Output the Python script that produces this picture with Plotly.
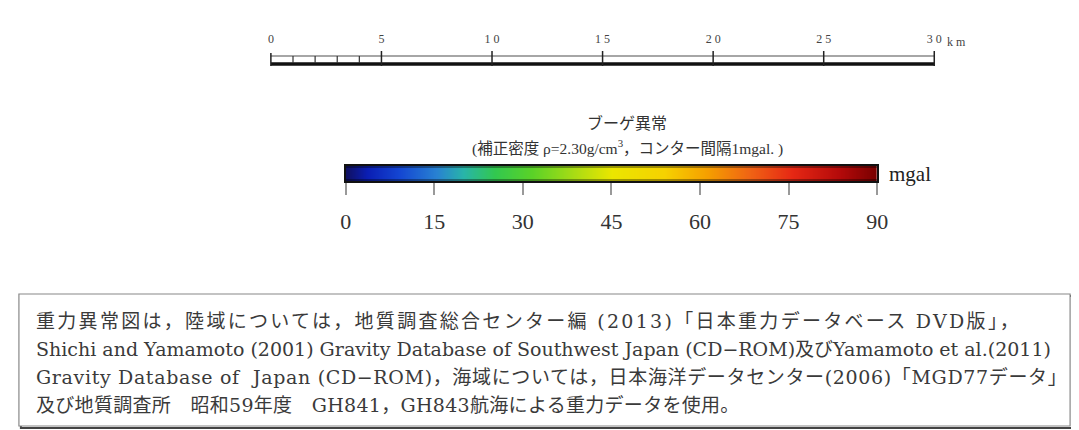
import plotly.graph_objects as go

W, H = 1079, 430

# ---- data ----
scale_major_km = [0, 5, 10, 15, 20, 25, 30]
scale_major_labels = ["0", "5", "1 0", "1 5", "2 0", "2 5", "3 0"]
scale_minor_km = [1, 2, 3, 4]
scale_unit = "k m"

colorbar_ticks = [0, 15, 30, 45, 60, 75, 90]
colorbar_tick_labels = ["0", "15", "30", "45", "60", "75", "90"]
colorbar_unit = "mgal"
colorbar_stops = [0.0, 0.04, 0.10, 0.17, 0.22, 0.28, 0.35, 0.43, 0.50, 0.60, 0.68, 0.76, 0.84, 0.93, 1.0]
colorbar_colors = ["#101060", "#0a1eb4", "#1446d2", "#2882d2", "#28b4aa", "#32c850", "#5ad228",
                   "#aadc14", "#ebe600", "#f5d200", "#f5a000", "#f06414", "#e62814", "#b40a0a", "#780000"]

title_text = "ブーゲ異常"
subtitle_text = "(補正密度 ρ=2.30g/cm<sup>3</sup>，コンター間隔1mgal. )"
note_lines = [
    "重力異常図は，陸域については，地質調査総合センター編 (2013)「日本重力データベース DVD版」，",
    "Shichi and Yamamoto (2001) Gravity Database of Southwest Japan (CD−ROM)及びYamamoto et al.(2011)",
    "Gravity Database of  Japan (CD−ROM)，海域については，日本海洋データセンター(2006)「MGD77データ」",
    "及び地質調査所　昭和59年度　GH841，GH843航海による重力データを使用。",
]
note_letter_spacing = [2.3, 0.0, 0.65, 0.3]

# ---- helpers for placement ----
def px(p):
    return p / W

def py(p):
    return 1 - p / H

SERIF = "Liberation Serif, Noto Sans CJK JP"
WIDE_SERIF = "DejaVu Serif, Noto Sans CJK JP"

fig = go.Figure()

# ---- scale bar (km axis) ----
sb_x0, sb_x1 = 261, 935
km_px = (sb_x1 - sb_x0) / (scale_major_km[-1] - scale_major_km[0])
pad_km = 0.2
sb_top, sb_bot = 43, 58
pad_v = 0.15
v_px = sb_bot - sb_top

# thick black bar
fig.add_trace(go.Scatter(x=[scale_major_km[0], scale_major_km[-1]], y=[0.13, 0.13], mode="lines",
                         line=dict(color="#111", width=3.5), xaxis="x", yaxis="y", hoverinfo="skip"))
# thin gray line
fig.add_trace(go.Scatter(x=[scale_major_km[0], scale_major_km[-1]], y=[0.667, 0.667], mode="lines",
                         line=dict(color="#888", width=1.5), xaxis="x", yaxis="y", hoverinfo="skip"))
# major ticks
mx, my = [], []
for k in scale_major_km:
    mx += [k, k, None]
    my += [0.0, 1.0 if k else 0.87, None]
fig.add_trace(go.Scatter(x=mx, y=my, mode="lines", line=dict(color="#222", width=1.5),
                         xaxis="x", yaxis="y", hoverinfo="skip"))
# minor ticks
nx, ny = [], []
for k in scale_minor_km:
    nx += [k, k, None]
    ny += [0.2, 0.667, None]
fig.add_trace(go.Scatter(x=nx, y=ny, mode="lines", line=dict(color="#333", width=1.2),
                         xaxis="x", yaxis="y", hoverinfo="skip"))

# ---- colour bar ----
fig.add_trace(go.Heatmap(
    x=colorbar_ticks, y=[0, 1], z=[colorbar_ticks, colorbar_ticks], zsmooth="best",
    colorscale=[[s, c] for s, c in zip(colorbar_stops, colorbar_colors)],
    zmin=colorbar_ticks[0], zmax=colorbar_ticks[-1], showscale=False,
    xaxis="x2", yaxis="y2", hoverinfo="skip"))
# subtle tube shading at top/bottom of the colour bar
fig.add_trace(go.Scatter(x=[colorbar_ticks[0], colorbar_ticks[-1]], y=[0.93, 0.93], mode="lines",
                         line=dict(color="rgba(0,0,0,0.35)", width=2), xaxis="x2", yaxis="y2",
                         hoverinfo="skip"))
fig.add_trace(go.Scatter(x=[colorbar_ticks[0], colorbar_ticks[-1]], y=[0.07, 0.07], mode="lines",
                         line=dict(color="rgba(0,0,0,0.35)", width=2), xaxis="x2", yaxis="y2",
                         hoverinfo="skip"))

cb_x0, cb_x1 = 337, 877
cb_top, cb_bot = 158, 173

fig.update_layout(
    width=W, height=H,
    margin=dict(l=0, r=0, t=0, b=0),
    paper_bgcolor="white", plot_bgcolor="rgba(0,0,0,0)",
    showlegend=False,
    xaxis=dict(domain=[px(sb_x0 - pad_km * km_px), px(sb_x1 + pad_km * km_px)],
               range=[scale_major_km[0] - pad_km, scale_major_km[-1] + pad_km],
               anchor="y", side="top", showgrid=False, zeroline=False, showline=False,
               ticks="", tickvals=scale_major_km, ticktext=scale_major_labels,
               tickfont=dict(family=SERIF, size=12, color="#444"), ticklabelstandoff=2),
    yaxis=dict(domain=[py(sb_bot + pad_v * v_px), py(sb_top - pad_v * v_px)],
               range=[-pad_v, 1 + pad_v], anchor="x", visible=False),
    xaxis2=dict(domain=[px(cb_x0), px(cb_x1)], range=[colorbar_ticks[0], colorbar_ticks[-1]],
                anchor="y2", showgrid=False, zeroline=False,
                showline=True, linecolor="#111", linewidth=2, mirror=True,
                ticks="outside", ticklen=12, tickwidth=1.5, tickcolor="#999",
                tickvals=colorbar_ticks, ticktext=colorbar_tick_labels,
                tickfont=dict(family=SERIF, size=22, color="#333"), ticklabelstandoff=8),
    yaxis2=dict(domain=[py(cb_bot), py(cb_top)], range=[0, 1], anchor="x2",
                showgrid=False, zeroline=False, showticklabels=False, ticks="",
                showline=True, linecolor="#111", linewidth=2, mirror=True),
)

annotations = [
    dict(text=scale_unit, xref="x", x=scale_major_km[-1], xanchor="left", xshift=11,
         yref="paper", y=py(34), yanchor="middle", showarrow=False,
         font=dict(family=SERIF, size=12, color="#444")),
    dict(text=colorbar_unit, xref="paper", x=px(887), xanchor="left",
         yref="paper", y=py(166), yanchor="middle", showarrow=False,
         font=dict(family=SERIF, size=21, color="#222")),
    dict(text=title_text, xref="paper", x=px(623), xanchor="center",
         yref="paper", y=py(115), yanchor="middle", showarrow=False,
         font=dict(family=SERIF, size=16, color="#333")),
    dict(text=subtitle_text, xref="paper", x=px(623), xanchor="center",
         yref="paper", y=py(139), yanchor="middle", showarrow=False,
         font=dict(family=SERIF, size=15.5, color="#333")),
]
line_y = [313, 341, 369, 397]
for t, yy, ls in zip(note_lines, line_y, note_letter_spacing):
    annotations.append(dict(text=f'<span style="letter-spacing:{ls}px">{t}</span>',
                            xref="paper", x=px(20), xanchor="left",
                            yref="paper", y=py(yy), yanchor="middle", showarrow=False,
                            font=dict(family=WIDE_SERIF, size=19, color="#3a3a3a")))
fig.update_layout(annotations=annotations)

# text box with slight shadow
fig.add_shape(type="rect", xref="paper", yref="paper",
              x0=px(7), x1=px(1075), y0=py(420), y1=py(288),
              line=dict(color="#444", width=2), fillcolor="white", layer="below")
fig.add_shape(type="rect", xref="paper", yref="paper",
              x0=px(5), x1=px(1073), y0=py(418), y1=py(286),
              line=dict(color="#888", width=1.2), fillcolor="white", layer="below")

fig.write_html("out.html")
